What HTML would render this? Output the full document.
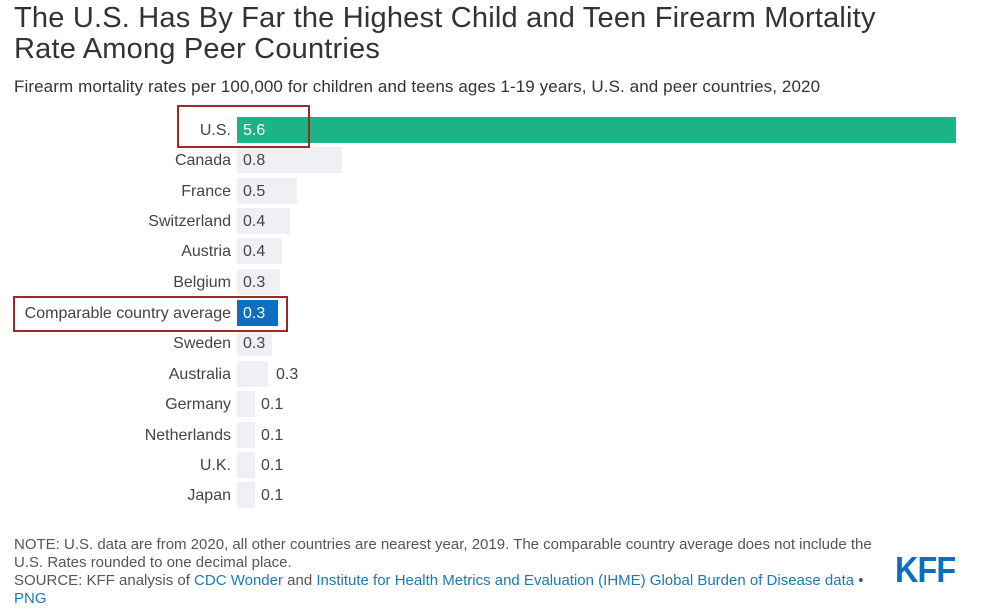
<!DOCTYPE html><html><head><style>
body{margin:0;width:982px;height:611px;background:#fff;font-family:"Liberation Sans",sans-serif;position:relative;overflow:hidden;color:#333}
.a{position:absolute;white-space:nowrap}
.lab{position:absolute;right:751px;font-size:16px;color:#444;line-height:28px;margin-top:1px}
.bar{position:absolute;left:237px;height:26px;background:#eef0f3}
.v{position:absolute;font-size:16px;color:#444;line-height:28px;margin-top:1px}
.box{position:absolute;border:2px solid #9b2b25}
.note{font-size:15px;color:#555;line-height:18px}
.lk{color:#1b7ab3}
</style></head><body>
<div class="a" style="left:14px;top:3px;font-size:29px;line-height:31px;color:#333;white-space:normal;width:900px;letter-spacing:0.2px">The U.S. Has By Far the Highest Child and Teen Firearm Mortality Rate Among Peer Countries</div>
<div class="a" style="left:14px;top:77px;font-size:17px;color:#333;letter-spacing:0.1px">Firearm mortality rates per 100,000 for children and teens ages 1-19 years, U.S. and peer countries, 2020</div>

<div class="bar" style="top:117px;width:719px;background:#1bb585"></div>
<div class="v" style="left:243px;top:116px;color:#fff">5.6</div>
<div class="lab" style="top:116px">U.S.</div>

<div class="bar" style="top:147px;width:105px"></div><div class="v" style="left:243px;top:146px">0.8</div><div class="lab" style="top:146px">Canada</div>
<div class="bar" style="top:178px;width:60px"></div><div class="v" style="left:243px;top:177px">0.5</div><div class="lab" style="top:177px">France</div>
<div class="bar" style="top:208px;width:53px"></div><div class="v" style="left:243px;top:207px">0.4</div><div class="lab" style="top:207px">Switzerland</div>
<div class="bar" style="top:238px;width:45px"></div><div class="v" style="left:243px;top:237px">0.4</div><div class="lab" style="top:237px">Austria</div>
<div class="bar" style="top:269px;width:43px"></div><div class="v" style="left:243px;top:268px">0.3</div><div class="lab" style="top:268px">Belgium</div>
<div class="bar" style="top:300px;width:41px;background:#0d6fc0"></div><div class="v" style="left:243px;top:299px;color:#fff">0.3</div><div class="lab" style="top:299px">Comparable country average</div>
<div class="bar" style="top:330px;width:35px"></div><div class="v" style="left:243px;top:329px">0.3</div><div class="lab" style="top:329px">Sweden</div>
<div class="bar" style="top:361px;width:31px"></div><div class="v" style="left:276px;top:360px">0.3</div><div class="lab" style="top:360px">Australia</div>
<div class="bar" style="top:391px;width:18px"></div><div class="v" style="left:261px;top:390px">0.1</div><div class="lab" style="top:390px">Germany</div>
<div class="bar" style="top:422px;width:18px"></div><div class="v" style="left:261px;top:421px">0.1</div><div class="lab" style="top:421px">Netherlands</div>
<div class="bar" style="top:452px;width:18px"></div><div class="v" style="left:261px;top:451px">0.1</div><div class="lab" style="top:451px">U.K.</div>
<div class="bar" style="top:482px;width:18px"></div><div class="v" style="left:261px;top:481px">0.1</div><div class="lab" style="top:481px">Japan</div>

<div class="box" style="left:177px;top:105px;width:129px;height:39px"></div>
<div class="box" style="left:13px;top:296px;width:271px;height:32px"></div>

<div class="a note" style="left:14px;top:536px">NOTE: U.S. data are from 2020, all other countries are nearest year, 2019. The comparable country average does not include the<br>U.S. Rates rounded to one decimal place.<br>SOURCE: KFF analysis of <span class="lk">CDC Wonder</span> and <span class="lk">Institute for Health Metrics and Evaluation (IHME) Global Burden of Disease data</span> •<br><span class="lk">PNG</span></div>
<div class="a" style="left:895px;top:549px;font-size:36px;font-weight:bold;color:#0b6fc1;letter-spacing:-1px;transform:scaleX(0.9);transform-origin:left">KFF</div>
</body></html>
